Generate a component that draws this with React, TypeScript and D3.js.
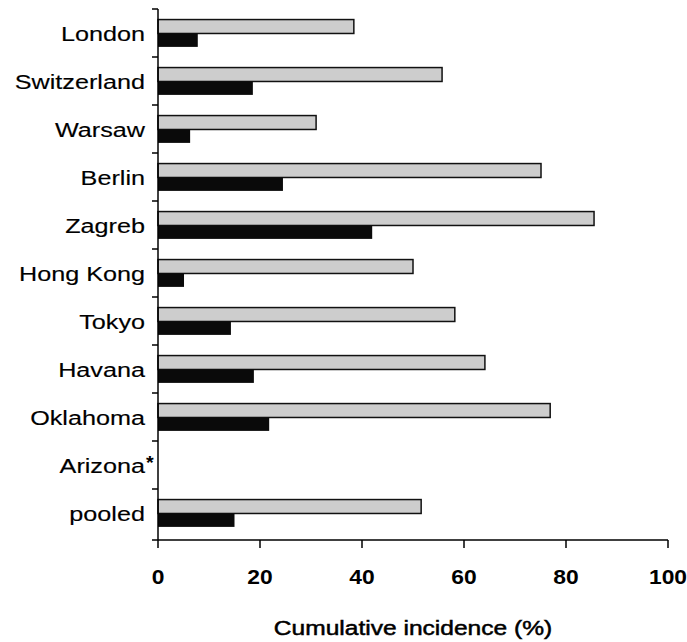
import React, { useEffect, useRef } from "react";
import * as d3 from "d3";

// cities from top to bottom
const cities = ["London", "Switzerland", "Warsaw", "Berlin", "Zagreb", "Hong Kong", "Tokyo", "Havana", "Oklahoma", "Arizona", "pooled"];
// grey (upper) bars
const greyValues = [38.4, 55.7, 31.0, 75.1, 85.5, 50.0, 58.2, 64.1, 76.9, null, 51.6];
// black (lower) bars
const blackValues = [7.8, 18.6, 6.3, 24.5, 42.0, 5.1, 14.3, 18.8, 21.8, null, 15.0];
const xTicks = [0, 20, 40, 60, 80, 100];
const xTitle = "Cumulative incidence (%)";

export default function App() {
  const ref = useRef<SVGSVGElement>(null);

  useEffect(() => {
    const width = 687, height = 642;
    const left = 158, right = 668, top = 9, bottom = 537, axisY = 540;
    const svg = d3.select(ref.current).attr("width", width).attr("height", height);
    svg.selectAll("*").remove();

    const x = d3.scaleLinear().domain([0, 100]).range([left, right]);
    const y = d3.scaleBand().domain(cities).range([top, bottom]);
    const sub = d3.scaleBand().domain(["grey", "black"]).range([y.bandwidth() * 0.22, y.bandwidth() * 0.8]);

    const g = svg.append("g");
    const rows = cities.map((c, i) => ({ city: c, grey: greyValues[i], black: blackValues[i] }));

    g.selectAll(".grey")
      .data(rows.filter(d => d.grey != null))
      .join("rect")
      .attr("x", x(0))
      .attr("y", d => y(d.city)! + sub("grey")!)
      .attr("width", d => x(d.grey as number) - x(0))
      .attr("height", sub.bandwidth())
      .attr("fill", "#cdcdcd")
      .attr("stroke", "#111")
      .attr("stroke-width", 1.5);

    g.selectAll(".black")
      .data(rows.filter(d => d.black != null))
      .join("rect")
      .attr("x", x(0))
      .attr("y", d => y(d.city)! + sub("black")!)
      .attr("width", d => x(d.black as number) - x(0))
      .attr("height", sub.bandwidth() - 0.5)
      .attr("fill", "#0a0a0a");

    // left axis
    g.append("line").attr("x1", left).attr("x2", left).attr("y1", top).attr("y2", axisY)
      .attr("stroke", "#000").attr("stroke-width", 1.5);
    g.selectAll(".ytick")
      .data(cities)
      .join("line")
      .attr("x1", left - 6).attr("x2", left)
      .attr("y1", d => y(d)!).attr("y2", d => y(d)!)
      .attr("stroke", "#000").attr("stroke-width", 1.5);

    g.selectAll(".ylabel")
      .data(cities)
      .join("text")
      .attr("transform", d => `translate(145, ${y(d)! + y.bandwidth() / 2 + 7.5}) scale(1.2,1)`)
      .attr("text-anchor", "end")
      .style("font-family", "Liberation Sans, Arial, sans-serif")
      .style("font-size", "21px")
      .attr("fill", "#000")
      .attr("stroke", "#000")
      .attr("stroke-width", 0.15)
      .text(d => d);

    // asterisk for Arizona
    g.append("text")
      .attr("transform", `translate(146, ${y("Arizona")! + y.bandwidth() / 2 + 4}) scale(1.1,1)`)
      .style("font-family", "Liberation Sans, Arial, sans-serif")
      .style("font-size", "18px")
      .style("font-weight", "bold")
      .text("*");

    // bottom axis
    g.append("line").attr("x1", left - 6).attr("x2", right).attr("y1", axisY).attr("y2", axisY)
      .attr("stroke", "#000").attr("stroke-width", 1.5);
    g.selectAll(".xtick")
      .data(xTicks)
      .join("line")
      .attr("x1", d => x(d)).attr("x2", d => x(d))
      .attr("y1", axisY).attr("y2", axisY + 8)
      .attr("stroke", "#000").attr("stroke-width", 1.5);
    g.selectAll(".xlabel")
      .data(xTicks)
      .join("text")
      .attr("transform", d => `translate(${x(d)}, 584) scale(1.17,1)`)
      .attr("text-anchor", "middle")
      .style("font-family", "Liberation Sans, Arial, sans-serif")
      .style("font-size", "19.5px")
      .style("font-weight", "bold")
      .text(d => d);

    g.append("text")
      .attr("transform", `translate(${(left + right) / 2}, 635) scale(1.17,1)`)
      .attr("text-anchor", "middle")
      .style("font-family", "Liberation Sans, Arial, sans-serif")
      .style("font-size", "21px")
      .attr("stroke", "#000")
      .attr("stroke-width", 0.5)
      .text(xTitle);
  }, []);

  return <svg ref={ref} style={{ position: "absolute", left: 0, top: 0, background: "#fff" }}></svg>;
}
